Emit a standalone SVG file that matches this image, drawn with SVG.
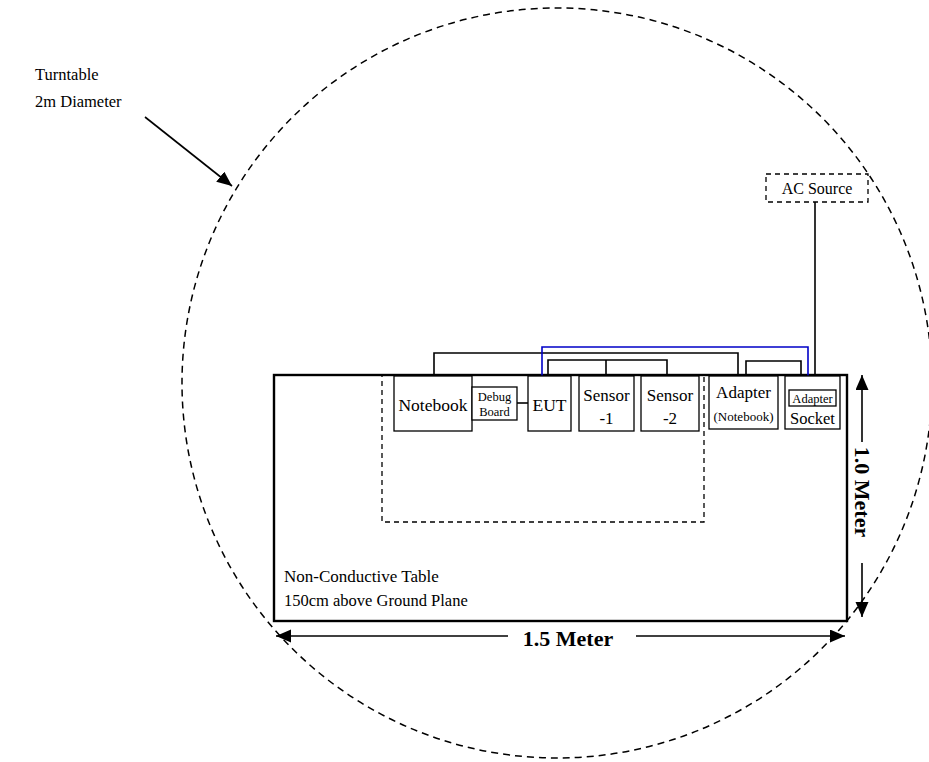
<svg xmlns="http://www.w3.org/2000/svg" width="929" height="762" viewBox="0 0 929 762" font-family="'Liberation Serif','Times New Roman',serif">
<style>
text{font-family:"Liberation Serif","Times New Roman",serif;fill:#000}
.box{fill:#fff;stroke:#000;stroke-width:1.3}
.ln{fill:none;stroke:#000;stroke-width:1.6}
.blue{fill:none;stroke:#0000c8;stroke-width:1.6}
.dash{fill:none;stroke:#000;stroke-width:1.3;stroke-dasharray:5,4}
.dim{fill:none;stroke:#000;stroke-width:1.6}
.b{font-weight:bold}
</style>
<defs>
<marker id="ah" markerUnits="userSpaceOnUse" markerWidth="16" markerHeight="14" refX="15" refY="6.5" orient="auto">
<path d="M0,0 L15,6.5 L0,13 Z" fill="#000"/>
</marker>
</defs>
<rect width="929" height="762" fill="#fff"/>
<g id="turntable">
<ellipse cx="557" cy="383" rx="375" ry="375" fill="none" stroke="#000" stroke-width="1.5" stroke-dasharray="7,5"/>
<text x="35" y="80" font-size="16.5">Turntable</text>
<text x="35" y="107" font-size="16.5">2m Diameter</text>
</g>
<g id="table">
<rect x="274" y="375" width="573" height="246" fill="none" stroke="#000" stroke-width="2.4"/>
<rect class="dash" x="382" y="375" width="322" height="147"/>
<text x="284" y="582" font-size="17">Non-Conductive Table</text>
<text x="284" y="606" font-size="16.5">150cm above Ground Plane</text>
</g>
<g id="connectors">
<polyline class="ln" points="434,376 434,353 738,353 738,376"/>
<polyline class="ln" points="548,376 548,360 667,360 667,376"/>
<line class="ln" x1="606" y1="360" x2="606" y2="376"/>
<polyline class="ln" points="746,376 746,361 801,361 801,376"/>
<line class="ln" x1="815" y1="202" x2="815" y2="376"/>
<polyline class="blue" points="542,376 542,347 808,347 808,390"/>
<line class="ln" x1="517" y1="403" x2="528" y2="403"/>
<line class="ln" x1="145" y1="117" x2="232" y2="186" marker-end="url(#ah)"/>
</g>
<g id="notebook">
<rect class="box" x="394" y="376" width="78" height="55"/>
<text x="433" y="411" font-size="17.5" text-anchor="middle">Notebook</text>
</g>
<g id="debug-board">
<rect class="box" x="472" y="387" width="45" height="33"/>
<text x="494.5" y="401" font-size="12.5" text-anchor="middle">Debug</text>
<text x="494.5" y="416" font-size="12.5" text-anchor="middle">Board</text>
</g>
<g id="eut">
<rect class="box" x="528" y="376" width="43" height="55"/>
<text x="549.5" y="411" font-size="17.5" text-anchor="middle">EUT</text>
</g>
<g id="sensor-1">
<rect class="box" x="579" y="376" width="55" height="55"/>
<text x="606.5" y="401" font-size="17" text-anchor="middle">Sensor</text>
<text x="606.5" y="424" font-size="17" text-anchor="middle">-1</text>
</g>
<g id="sensor-2">
<rect class="box" x="641" y="376" width="58" height="55"/>
<text x="670" y="401" font-size="17" text-anchor="middle">Sensor</text>
<text x="670" y="424" font-size="17" text-anchor="middle">-2</text>
</g>
<g id="adapter-notebook">
<rect class="box" x="709" y="376" width="69" height="53"/>
<text x="743.5" y="398" font-size="17" text-anchor="middle">Adapter</text>
<text x="743.5" y="421" font-size="13" text-anchor="middle">(Notebook)</text>
</g>
<g id="socket">
<rect class="box" x="785" y="376" width="55" height="53"/>
<rect class="box" x="789" y="390" width="47" height="16"/>
<text x="812.5" y="402.5" font-size="12.5" text-anchor="middle">Adapter</text>
<text x="812.5" y="424" font-size="16.5" text-anchor="middle">Socket</text>
</g>
<g id="ac-source">
<rect class="dash" x="766" y="174" width="102" height="28"/>
<text x="817" y="194" font-size="16" text-anchor="middle">AC Source</text>
</g>
<g id="dimensions">
<line class="dim" x1="508" y1="636" x2="276" y2="636" marker-end="url(#ah)"/>
<line class="dim" x1="636" y1="636" x2="845" y2="636" marker-end="url(#ah)"/>
<text x="568" y="646" font-size="22" class="b" text-anchor="middle">1.5 Meter</text>
<line class="dim" x1="862" y1="442" x2="862" y2="375" marker-end="url(#ah)"/>
<line class="dim" x1="862" y1="563" x2="862" y2="617" marker-end="url(#ah)"/>
<text transform="translate(855,492) rotate(90)" font-size="22" class="b" text-anchor="middle">1.0 Meter</text>
</g>
</svg>
